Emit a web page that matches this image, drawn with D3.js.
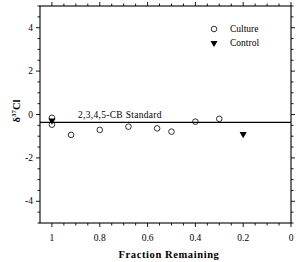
<!DOCTYPE html>
<html>
<head>
<meta charset="utf-8">
<script src="https://cdn.jsdelivr.net/npm/d3@7"></script>
<style>
  body { margin: 0; background: #fff; }
  text { font-family: "Liberation Serif", "DejaVu Serif", serif; fill: #000; }
</style>
</head>
<body>
<script>
// culture samples: fraction remaining vs delta 37Cl
var cultureFrac = [1.0, 1.0, 0.92, 0.8, 0.68, 0.56, 0.5, 0.4, 0.3];
var cultureDelta = [-0.15, -0.47, -0.94, -0.71, -0.56, -0.64, -0.79, -0.33, -0.2];
// control samples
var controlFrac = [1.0, 0.2];
var controlDelta = [-0.28, -0.9];
// standard value
var standardDelta = -0.36;
var xTicks = [1, 0.8, 0.6, 0.4, 0.2, 0];
var yTicks = [-4, -2, 0, 2, 4];

var width = 300, height = 262;
// plot box (note: "top" is reserved on window, so use pl/pr/pt/pb)
var pl = 40, pr = 291, pt = 6, pb = 223;

var svg = d3.select('body').append('svg')
    .attr('width', width)
    .attr('height', height);

var x = d3.scaleLinear().domain([1.05, 0]).range([pl, pr]);
var y = d3.scaleLinear().domain([-5, 5]).range([pb, pt]);

// minor tick values
var xMinor = d3.range(0, 21).map(function(i) { return +(i * 0.05).toFixed(2); });
var yMinor = d3.range(-10, 11).map(function(i) { return i * 0.5; });

function isMajorX(v) { return Math.abs(v * 5 - Math.round(v * 5)) < 1e-6; }
function isMajorY(v) { return Math.abs(v / 2 - Math.round(v / 2)) < 1e-6; }

var frame = svg.append('g').attr('class', 'frame');

// box
frame.append('rect')
    .attr('x', pl).attr('y', pt)
    .attr('width', pr - pl).attr('height', pb - pt)
    .attr('fill', 'none').attr('stroke', '#000').attr('stroke-width', 1.1);

// bottom + top ticks (outward)
frame.selectAll('.xb').data(xMinor).enter().append('line')
    .attr('x1', function(d) { return x(d); }).attr('x2', function(d) { return x(d); })
    .attr('y1', pb).attr('y2', function(d) { return pb + (isMajorX(d) ? 4 : 2.5); })
    .attr('stroke', '#000').attr('stroke-width', 0.9);
frame.selectAll('.xt').data(xMinor).enter().append('line')
    .attr('x1', function(d) { return x(d); }).attr('x2', function(d) { return x(d); })
    .attr('y1', pt).attr('y2', function(d) { return pt - (isMajorX(d) ? 4 : 2.5); })
    .attr('stroke', '#000').attr('stroke-width', 0.9);

// left + right ticks (outward)
frame.selectAll('.yl').data(yMinor).enter().append('line')
    .attr('y1', function(d) { return y(d); }).attr('y2', function(d) { return y(d); })
    .attr('x1', pl).attr('x2', function(d) { return pl - (isMajorY(d) ? 4 : 2.5); })
    .attr('stroke', '#000').attr('stroke-width', 0.9);
frame.selectAll('.yr').data(yMinor).enter().append('line')
    .attr('y1', function(d) { return y(d); }).attr('y2', function(d) { return y(d); })
    .attr('x1', pr).attr('x2', function(d) { return pr + (isMajorY(d) ? 4 : 2.5); })
    .attr('stroke', '#000').attr('stroke-width', 0.9);

// tick labels
svg.append('g').selectAll('text').data(xTicks).enter().append('text')
    .attr('x', function(d) { return x(d); })
    .attr('y', 241)
    .attr('text-anchor', 'middle')
    .style('font-size', '9.5px')
    .text(function(d) { return d; });

svg.append('g').selectAll('text').data(yTicks).enter().append('text')
    .attr('x', 33)
    .attr('y', function(d) { return y(d) + 3; })
    .attr('text-anchor', 'end')
    .style('font-size', '9.5px')
    .text(function(d) { return d; });

// axis titles
svg.append('text')
    .attr('x', 169).attr('y', 258)
    .attr('text-anchor', 'middle')
    .style('font-size', '10.5px').style('font-weight', 'bold')
    .style('letter-spacing', '0.6px')
    .text('Fraction Remaining');

var ylab = svg.append('text')
    .attr('transform', 'translate(20,111) rotate(-90)')
    .attr('text-anchor', 'middle')
    .style('font-size', '10.5px').style('font-weight', 'bold');
ylab.append('tspan').text('δ');
ylab.append('tspan').attr('dy', -4).style('font-size', '7px').text('37');
ylab.append('tspan').attr('dy', 4).text('Cl');

// standard line
svg.append('line')
    .attr('x1', x(1.05)).attr('x2', x(0))
    .attr('y1', y(standardDelta)).attr('y2', y(standardDelta))
    .attr('stroke', '#000').attr('stroke-width', 1.3);
svg.append('text')
    .attr('x', 78).attr('y', y(standardDelta) - 4)
    .style('font-size', '9.5px')
    .style('letter-spacing', '0.3px')
    .text('2,3,4,5-CB Standard');

// data
var tri = d3.symbol().type(d3.symbolTriangle).size(22);

svg.append('g').selectAll('path').data(controlFrac).enter().append('path')
    .attr('d', tri)
    .attr('transform', function(d, i) { return 'translate(' + x(d) + ',' + y(controlDelta[i]) + ') rotate(180)'; })
    .attr('fill', '#000');

svg.append('g').selectAll('circle').data(cultureFrac).enter().append('circle')
    .attr('cx', function(d) { return x(d); })
    .attr('cy', function(d, i) { return y(cultureDelta[i]); })
    .attr('r', 2.8)
    .attr('fill', 'none')
    .attr('stroke', '#000').attr('stroke-width', 0.8);

// legend
var legend = svg.append('g');
legend.append('circle').attr('cx', 214).attr('cy', 29).attr('r', 2.8)
    .attr('fill', 'none').attr('stroke', '#000').attr('stroke-width', 0.8);
legend.append('path').attr('d', tri)
    .attr('transform', 'translate(214,43) rotate(180)').attr('fill', '#000');
legend.append('text').attr('x', 230).attr('y', 32).style('font-size', '9.5px').text('Culture');
legend.append('text').attr('x', 230).attr('y', 46).style('font-size', '9.5px').text('Control');
</script>
</body>
</html>
